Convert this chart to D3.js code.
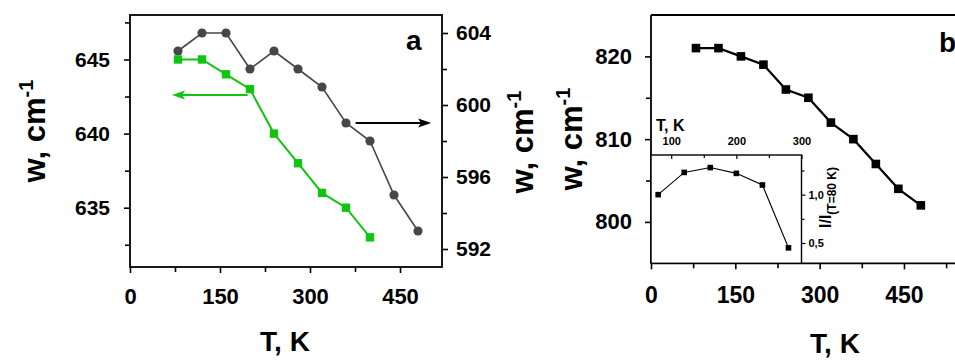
<!DOCTYPE html>
<html>
<head>
<meta charset="utf-8">
<script src="https://cdn.jsdelivr.net/npm/d3@7"></script>
<style>
  html, body { margin: 0; padding: 0; background: #fff; }
  svg { display: block; }
  text { font-family: "Liberation Sans", Arial, sans-serif; font-weight: bold; fill: #000; }
</style>
</head>
<body>
<svg id="chart" width="955" height="360"></svg>
<script>
// Panel a: two Raman modes vs temperature (left / right axes)
const tempGreen = [80, 120, 160, 200, 240, 280, 320, 360, 400];
const wGreen = [645, 645, 644, 643, 640, 638, 636, 635, 633];
const tempGray = [80, 120, 160, 200, 240, 280, 320, 360, 400, 440, 480];
const wGray = [603, 604, 604, 602, 603, 602, 601, 599, 598, 595, 593];

// Panel b: main mode vs temperature
const tempB = [80, 120, 160, 200, 240, 280, 320, 360, 400, 440, 480];
const wB = [821, 821, 820, 819, 816, 815, 812, 810, 807, 804, 802];

// Panel b inset: relative intensity
const tempInset = [80, 120, 160, 200, 240, 280];
const ratioInset = [1.0, 1.23, 1.28, 1.22, 1.10, 0.45];

// Tick values
const xTicks = [0, 150, 300, 450];
const xMinorA = [75, 225, 375];
const leftTicksA = [635, 640, 645];
const leftMinorA = [632.5, 637.5, 642.5, 647.5];
const rightTicksA = [592, 596, 600, 604];
const rightMinorA = [594, 598, 602];
const xMinorB = [75, 225, 375, 525];
const yTicksB = [800, 810, 820];
const yMinorB = [805, 815];
const insetXTicks = [100, 200, 300];
const insetXMinor = [150, 250];
const insetYTicks = [0.5, 1.0];
const insetYMinor = [0.75, 1.25];

const svg = d3.select("#chart");
const GREEN = "#12c412";
const GRAY = "#474747";

// ---------- Panel a ----------
const xA = d3.scaleLinear().domain([0, 520]).range([130, 442]);
const yAL = d3.scaleLinear().domain([631, 648]).range([267, 15]);
const yAR = d3.scaleLinear().domain([591, 605]).range([267, 15]);

const gA = svg.append("g");

function styleAxis(g, fontSize) {
  g.select(".domain").remove();
  g.selectAll(".tick line").attr("stroke", "#000").attr("stroke-width", 1.6);
  g.selectAll(".tick text").style("font-size", fontSize + "px").attr("fill", "#000");
}

// frame
gA.append("rect")
  .attr("x", xA(0)).attr("y", yAL.range()[1])
  .attr("width", xA(520) - xA(0)).attr("height", yAL.range()[0] - yAL.range()[1])
  .attr("fill", "none").attr("stroke", "#000").attr("stroke-width", 1.8);

gA.append("g").attr("transform", `translate(0,${yAL.range()[0]})`)
  .call(d3.axisBottom(xA).tickValues(xTicks).tickSize(6).tickPadding(15).tickFormat(d3.format("d")))
  .call(g => styleAxis(g, 22));
gA.append("g").attr("transform", `translate(0,${yAL.range()[0]})`)
  .call(d3.axisBottom(xA).tickValues(xMinorA).tickSize(5).tickFormat(""))
  .call(g => styleAxis(g, 22));

gA.append("g").attr("transform", `translate(${xA(0)},0)`)
  .call(d3.axisLeft(yAL).tickValues(leftTicksA).tickSize(6).tickPadding(14).tickFormat(d3.format("d")))
  .call(g => styleAxis(g, 21));
gA.append("g").attr("transform", `translate(${xA(0)},0)`)
  .call(d3.axisLeft(yAL).tickValues(leftMinorA).tickSize(5).tickFormat(""))
  .call(g => styleAxis(g, 21));

gA.append("g").attr("transform", `translate(${xA(520)},0)`)
  .call(d3.axisRight(yAR).tickValues(rightTicksA).tickSize(6).tickPadding(8).tickFormat(d3.format("d")))
  .call(g => styleAxis(g, 21));
gA.append("g").attr("transform", `translate(${xA(520)},0)`)
  .call(d3.axisRight(yAR).tickValues(rightMinorA).tickSize(5).tickFormat(""))
  .call(g => styleAxis(g, 21));

// gray series (right axis)
const grayPts = tempGray.map((t, i) => [t, wGray[i]]);
gA.append("path").datum(grayPts)
  .attr("fill", "none").attr("stroke", GRAY).attr("stroke-width", 1.6)
  .attr("d", d3.line().x(d => xA(d[0])).y(d => yAR(d[1])));
gA.selectAll("circle.gray").data(grayPts).join("circle")
  .attr("class", "gray")
  .attr("cx", d => xA(d[0])).attr("cy", d => yAR(d[1])).attr("r", 4.6)
  .attr("fill", GRAY);

// green series (left axis)
const greenPts = tempGreen.map((t, i) => [t, wGreen[i]]);
gA.append("path").datum(greenPts)
  .attr("fill", "none").attr("stroke", GREEN).attr("stroke-width", 2)
  .attr("d", d3.line().x(d => xA(d[0])).y(d => yAL(d[1])));
gA.selectAll("rect.green").data(greenPts).join("rect")
  .attr("class", "green")
  .attr("x", d => xA(d[0]) - 4.2).attr("y", d => yAL(d[1]) - 4.2)
  .attr("width", 8.4).attr("height", 8.4)
  .attr("fill", GREEN);

// arrows pointing to each series' axis
function arrow(g, x1, y1, x2, y2, color, width) {
  const dir = Math.sign(x2 - x1);
  const headLen = 13, headHalf = 4.5;
  g.append("line")
    .attr("x1", x1).attr("y1", y1).attr("x2", x2 - dir * headLen * 0.6).attr("y2", y2)
    .attr("stroke", color).attr("stroke-width", width);
  g.append("path")
    .attr("d", `M${x2},${y2} L${x2 - dir * headLen},${y2 - headHalf} L${x2 - dir * headLen * 0.8},${y2} L${x2 - dir * headLen},${y2 + headHalf} Z`)
    .attr("fill", color);
}
arrow(gA, xA(196), yAL(642.6), xA(70), yAL(642.6), GREEN, 2);
arrow(gA, xA(376), yAR(599), xA(502), yAR(599), "#000", 2);

gA.append("text").attr("x", 406).attr("y", 50).style("font-size", "28px").text("a");

// axis titles
function wTitle(x, y) {
  const t = svg.append("text")
    .attr("transform", `translate(${x},${y}) rotate(-90)`)
    .attr("text-anchor", "middle")
    .style("font-size", "31px");
  t.append("tspan").text("w, cm");
  t.append("tspan").attr("dy", -12).style("font-size", "20px").text("-1");
}
wTitle(45, 131);
wTitle(533, 142);
wTitle(582, 139);

svg.append("text").attr("x", 285).attr("y", 351)
  .attr("text-anchor", "middle").style("font-size", "28px").text("T, K");

// ---------- Panel b ----------
const xB = d3.scaleLinear().domain([0, 560]).range([651, 965.8]);
const yB = d3.scaleLinear().domain([795, 825]).range([263.3, 15]);
const gB = svg.append("g");

gB.append("line").attr("x1", xB(0)).attr("x2", 960).attr("y1", yB(825)).attr("y2", yB(825))
  .attr("stroke", "#000").attr("stroke-width", 1.8);
gB.append("line").attr("x1", xB(0)).attr("x2", 960).attr("y1", yB(795)).attr("y2", yB(795))
  .attr("stroke", "#000").attr("stroke-width", 1.8);
gB.append("line").attr("x1", xB(0)).attr("x2", xB(0)).attr("y1", yB(825)).attr("y2", yB(795))
  .attr("stroke", "#000").attr("stroke-width", 1.8);

gB.append("g").attr("transform", `translate(0,${yB(795)})`)
  .call(d3.axisBottom(xB).tickValues(xTicks).tickSize(6).tickPadding(17).tickFormat(d3.format("d")))
  .call(g => styleAxis(g, 23));
gB.append("g").attr("transform", `translate(0,${yB(795)})`)
  .call(d3.axisBottom(xB).tickValues(xMinorB).tickSize(5).tickFormat(""))
  .call(g => styleAxis(g, 23));
gB.append("g").attr("transform", `translate(${xB(0)},0)`)
  .call(d3.axisLeft(yB).tickValues(yTicksB).tickSize(6).tickPadding(13).tickFormat(d3.format("d")))
  .call(g => styleAxis(g, 22));
gB.append("g").attr("transform", `translate(${xB(0)},0)`)
  .call(d3.axisLeft(yB).tickValues(yMinorB).tickSize(5).tickFormat(""))
  .call(g => styleAxis(g, 22));

const bPts = tempB.map((t, i) => [t, wB[i]]);
gB.append("path").datum(bPts)
  .attr("fill", "none").attr("stroke", "#000").attr("stroke-width", 2.2)
  .attr("d", d3.line().x(d => xB(d[0])).y(d => yB(d[1])));
gB.selectAll("rect.pt").data(bPts).join("rect")
  .attr("class", "pt")
  .attr("x", d => xB(d[0]) - 4.3).attr("y", d => yB(d[1]) - 4.3)
  .attr("width", 8.6).attr("height", 8.6).attr("fill", "#000");

gB.append("text").attr("x", 939).attr("y", 52).style("font-size", "28px").text("b");

svg.append("text").attr("x", 835).attr("y", 353)
  .attr("text-anchor", "middle").style("font-size", "28px").text("T, K");

// ---------- Inset ----------
const xIn = d3.scaleLinear().domain([69, 300]).range([651, 801.5]);
const yIn = d3.scaleLinear().domain([0.29, 1.41]).range([263.3, 155]);
const gI = svg.append("g");

gI.append("rect").attr("x", xIn(69)).attr("y", yIn(1.41))
  .attr("width", xIn(300) - xIn(69)).attr("height", yIn(0.29) - yIn(1.41))
  .attr("fill", "#fff").attr("stroke", "#000").attr("stroke-width", 1.4);

gI.append("g").attr("transform", `translate(0,${yIn(1.41)})`)
  .call(d3.axisTop(xIn).tickValues(insetXTicks).tickSize(-4).tickPadding(10).tickFormat(d3.format("d")))
  .call(g => styleAxis(g, 11))
  .call(g => g.selectAll(".tick line").attr("stroke-width", 1.2));
gI.append("g").attr("transform", `translate(0,${yIn(1.41)})`)
  .call(d3.axisTop(xIn).tickValues(insetXMinor).tickSize(-3).tickFormat(""))
  .call(g => styleAxis(g, 11))
  .call(g => g.selectAll(".tick line").attr("stroke-width", 1.2));

gI.append("g").attr("transform", `translate(${xIn(300)},0)`)
  .call(d3.axisRight(yIn).tickValues(insetYTicks).tickSize(4).tickPadding(3).tickFormat(d => d3.format(".1f")(d).replace(".", ",")))
  .call(g => styleAxis(g, 11))
  .call(g => g.selectAll(".tick line").attr("stroke-width", 1.2));
gI.append("g").attr("transform", `translate(${xIn(300)},0)`)
  .call(d3.axisRight(yIn).tickValues(insetYMinor).tickSize(3).tickFormat(""))
  .call(g => styleAxis(g, 11))
  .call(g => g.selectAll(".tick line").attr("stroke-width", 1.2));

const inPts = tempInset.map((t, i) => [t, ratioInset[i]]);
gI.append("path").datum(inPts)
  .attr("fill", "none").attr("stroke", "#000").attr("stroke-width", 1.1)
  .attr("d", d3.line().x(d => xIn(d[0])).y(d => yIn(d[1])));
gI.selectAll("rect.ipt").data(inPts).join("rect")
  .attr("class", "ipt")
  .attr("x", d => xIn(d[0]) - 2.8).attr("y", d => yIn(d[1]) - 2.8)
  .attr("width", 5.6).attr("height", 5.6).attr("fill", "#000");

gI.append("text").attr("x", 656).attr("y", 131).style("font-size", "16px").text("T, K");

const it = gI.append("text")
  .attr("transform", "translate(831,228) rotate(-90)")
  .style("font-size", "16px");
it.append("tspan").text("I/I");
it.append("tspan").attr("dy", 5).style("font-size", "12px").text("(T=80 K)");
</script>
</body>
</html>
